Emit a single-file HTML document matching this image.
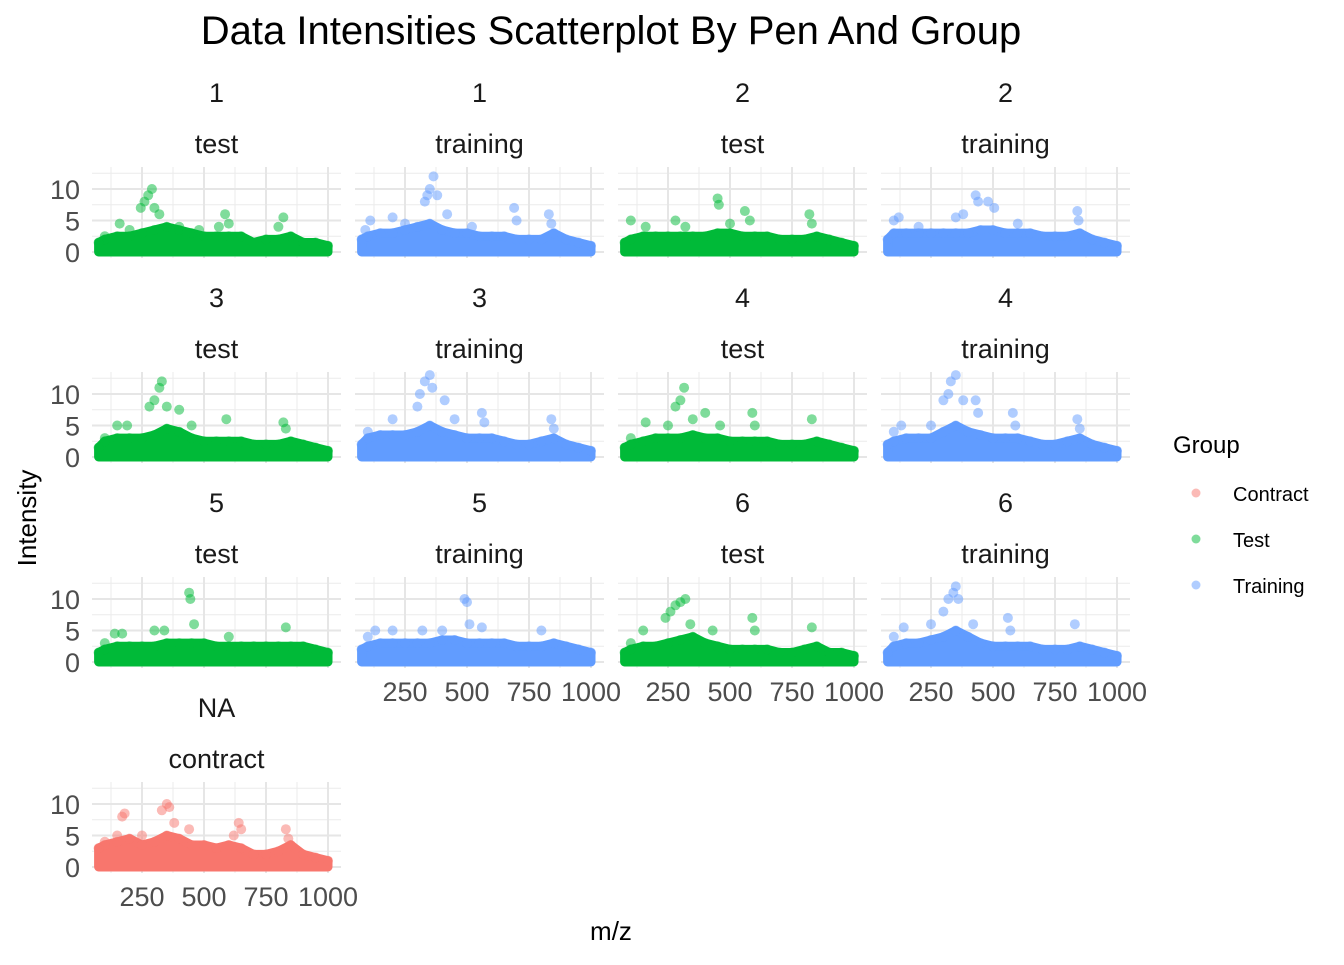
<!DOCTYPE html>
<html><head><meta charset="utf-8"><style>
body{margin:0;background:#fff;}
svg text{font-family:"Liberation Sans","DejaVu Sans",sans-serif;}
</style></head><body>
<svg id="chart" width="1344" height="960" xmlns="http://www.w3.org/2000/svg">
<text x="611" y="44" font-size="40" text-anchor="middle" fill="#000">Data Intensities Scatterplot By Pen And Group</text>
<text transform="translate(36,518) rotate(-90)" font-size="26" text-anchor="middle" fill="#000">Intensity</text>
<text x="611" y="940" font-size="26" text-anchor="middle" fill="#000">m/z</text>
<g>
<text x="1173" y="453" font-size="24" fill="#000">Group</text>
<circle cx="1196" cy="493" r="4.5" fill="#F8766D" fill-opacity="0.5"/>
<text x="1233" y="501" font-size="20">Contract</text>
<circle cx="1196" cy="539" r="4.5" fill="#00BA38" fill-opacity="0.5"/>
<text x="1233" y="547" font-size="20">Test</text>
<circle cx="1196" cy="585" r="4.5" fill="#619CFF" fill-opacity="0.5"/>
<text x="1233" y="593" font-size="20">Training</text>
</g>
<g id="panels"></g>
</svg>
<script>
const mzKnots=[75,100,150,200,250,300,350,400,450,500,550,600,650,700,750,800,850,900,950,1000];
const xTicks=[250,500,750,1000];
const yTicks=[0,5,10];
const panelPens=["1","1","2","2","3","3","4","4","5","5","6","6","NA"];
const panelGroups=["test","training","test","training","test","training","test","training","test","training","test","training","contract"];
const env1=[1.5,2,2.5,2.5,3,3.5,4,3.5,3,2.5,2.5,2.5,2.5,1.5,2,2,2.5,1.5,1.5,1];
const env2=[2,2.5,3,3,3.5,4,4.5,3.5,3,3,2.5,2.5,2.5,2,2,2,3,2,1.5,1];
const env3=[1.5,2,2.5,2.5,2.5,2.5,2.5,2.5,3,3,2.5,2.5,2.5,2,2,2,2.5,2,1.5,1];
const env4=[2,3,3,3,3,3,3,3,3.5,3.5,3,3,3,2.5,2.5,2.5,3,2,1.5,1];
const env5=[1.5,2.5,3,3,3,3.5,4.5,4,3,2.5,2.5,2.5,2.5,2,2,2,2.5,2,1.5,1];
const env6=[2,3,3.5,3.5,3.5,4,5,4,3.5,3,3,3,2.5,2,2,2.5,3,2,1.5,1];
const env7=[1.5,2,2.5,3,3,3,3.5,3,3,2.5,2.5,2.5,2.5,2,2,2,2.5,2,1.5,1];
const env8=[2,2.5,3,3,3,4,5,4,3.5,3,3,3,2.5,2,2,2.5,3,2,1.5,1];
const env9=[1.5,2,2.5,2.5,2.5,2.5,3,3,3,3,2.5,2.5,2.5,2.5,2.5,2.5,2.5,2.5,2,1.5];
const env10=[2,2.5,3,3,3,3,3,3.5,3.5,3,3,3,3,2.5,2.5,2.5,3,2.5,2,1.5];
const env11=[1.5,2,2.5,2.5,3,3.5,4,3,2.5,2,2,2,2,1.5,1.5,2,2.5,1.5,1.5,1];
const env12=[1.5,2.5,3,3,3.5,4,5,4,3,2.5,2.5,2.5,2.5,2,2,2,2.5,2,1.5,1];
const env13=[3,3.5,4,4.5,3.5,4,5,4.5,3.5,3.5,3,3.5,3,2,2,2.5,3.5,2,1.5,1];
const pk1=[[100,2.5],[160,4.5],[200,3.5],[245,7],[260,8],[275,9],[290,10],[300,7],[320,6],[400,4],[480,3.5],[560,4],[585,6],[600,4.5],[820,5.5],[800,4]];
const pk2=[[90,3.5],[110,5],[200,5.5],[250,4.5],[330,8],[340,9],[350,10],[365,12],[380,9],[420,6],[520,4],[690,7],[700,5],[830,6],[840,4.5]];
const pk3=[[100,5],[160,4],[280,5],[320,4],[450,8.5],[455,7.5],[500,4.5],[560,6.5],[580,5],[820,6],[830,4.5]];
const pk4=[[100,5],[120,5.5],[200,4],[350,5.5],[380,6],[430,9],[440,8],[480,8],[505,7],[600,4.5],[840,6.5],[845,5]];
const pk5=[[100,3],[150,5],[190,5],[280,8],[300,9],[320,11],[330,12],[350,8],[400,7.5],[450,5],[590,6],[820,5.5],[830,4.5]];
const pk6=[[100,4],[200,6],[300,8],[310,10],[330,12],[350,13],[360,11],[410,9],[450,6],[560,7],[570,5.5],[840,6],[850,4.5]];
const pk7=[[100,3],[160,5.5],[250,5],[280,8],[300,9],[315,11],[350,6],[400,7],[460,5],[590,7],[600,5],[830,6]];
const pk8=[[100,4],[130,5],[250,5],[300,9],[320,10],[330,12],[350,13],[380,9],[430,9],[440,7],[580,7],[590,5],[840,6],[850,4.5]];
const pk9=[[100,3],[140,4.5],[170,4.5],[300,5],[340,5],[440,11],[445,10],[460,6],[600,4],[830,5.5]];
const pk10=[[100,4],[130,5],[200,5],[320,5],[400,5],[490,10],[500,9.5],[510,6],[560,5.5],[800,5]];
const pk11=[[100,3],[150,5],[240,7],[260,8],[280,9],[300,9.5],[320,10],[340,6],[430,5],[590,7],[600,5],[830,5.5]];
const pk12=[[100,4],[140,5.5],[250,6],[300,8],[320,10],[340,11],[350,12],[360,10],[420,6],[560,7],[570,5],[830,6]];
const pk13=[[100,4],[150,5],[170,8],[180,8.5],[250,5],[330,9],[350,10],[360,9.5],[380,7],[440,6],[620,5],[640,7],[650,6],[830,6],[840,4.5]];
const envs=[env1,env2,env3,env4,env5,env6,env7,env8,env9,env10,env11,env12,env13];
const pks=[pk1,pk2,pk3,pk4,pk5,pk6,pk7,pk8,pk9,pk10,pk11,pk12,pk13];
const colors={test:"#00BA38",training:"#619CFF",contract:"#F8766D"};
const NS="http://www.w3.org/2000/svg";
const root=document.getElementById("panels");
const colX=[92,355,618,881], rowY=[167,372,577,782], PW=249, PH=91;
function mk(t,a,p){const e=document.createElementNS(NS,t);for(const k in a)e.setAttribute(k,a[k]);p.appendChild(e);return e;}
for(let i=0;i<13;i++){
  const col=i%4,row=Math.floor(i/4),x0=colX[col],y0=rowY[row];
  const sx=v=>x0+50+(v-250)*0.248;
  const sy=v=>y0+85-v*6.3;
  const g=mk("g",{},root);
  
  
  const s1=mk("text",{x:x0+PW/2,y:y0-65,"font-size":27,"text-anchor":"middle",fill:"#1a1a1a"},g);s1.textContent=panelPens[i];
  
  
  const s2=mk("text",{x:x0+PW/2,y:y0-14,"font-size":27,"text-anchor":"middle",fill:"#1a1a1a"},g);s2.textContent=panelGroups[i];
  
  
  [125,375,625,875].forEach(v=>mk("line",{x1:sx(v),x2:sx(v),y1:y0,y2:y0+PH,stroke:"#ebebeb","stroke-width":1},g));
  [2.5,7.5,12.5].forEach(v=>mk("line",{x1:x0,x2:x0+PW,y1:sy(v),y2:sy(v),stroke:"#ebebeb","stroke-width":1},g));
  xTicks.forEach(v=>mk("line",{x1:sx(v),x2:sx(v),y1:y0,y2:y0+PH,stroke:"#e6e6e6","stroke-width":2},g));
  yTicks.forEach(v=>mk("line",{x1:x0,x2:x0+PW,y1:sy(v),y2:sy(v),stroke:"#e6e6e6","stroke-width":2},g));
  const c=colors[panelGroups[i]], env=envs[i];
  let d="M"+sx(mzKnots[0])+","+sy(0);
  env.forEach((v,k)=>{d+=" L"+sx(mzKnots[k])+","+sy(v);});
  d+=" L"+sx(mzKnots[mzKnots.length-1])+","+sy(0)+" Z";
  const a=mk("path",{d:d,fill:c,stroke:c,"stroke-width":9,"stroke-linejoin":"round"},g);
  
  
  env.forEach((v,k)=>{const p=mk("circle",{cx:sx(mzKnots[k]),cy:sy(v),r:5,fill:c,"fill-opacity":0.5},g);
    
    });
  pks[i].forEach(pt=>{const p=mk("circle",{cx:sx(pt[0]),cy:sy(pt[1]),r:5,fill:c,"fill-opacity":0.5},g);
    
    });
  if(col===0){yTicks.forEach(v=>{const t=mk("text",{x:x0-12,y:sy(v)+10,"font-size":27,"text-anchor":"end",fill:"#4d4d4d"},g);t.textContent=v;
    
    });}
  if((row===2&&col>0)||row===3){xTicks.forEach(v=>{const t=mk("text",{x:sx(v),y:y0+PH+33,"font-size":27,"text-anchor":"middle",fill:"#4d4d4d"},g);t.textContent=v;
    
    });}
}
</script>
</body></html>
